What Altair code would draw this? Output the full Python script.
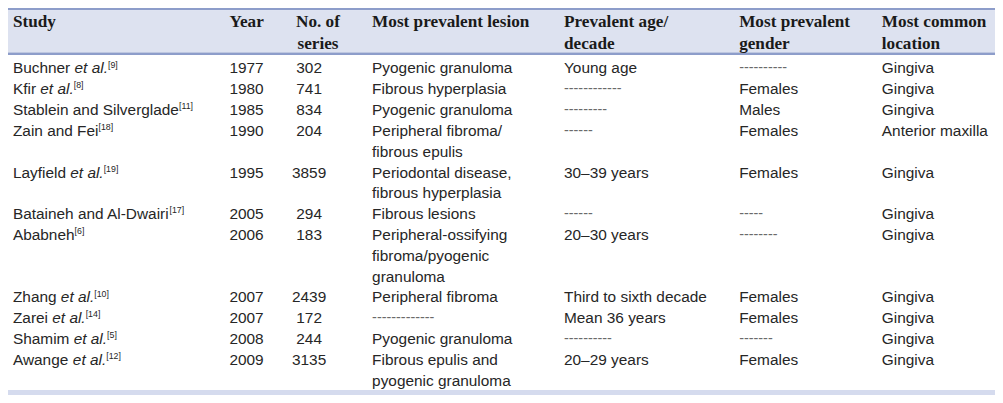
import altair as alt
import pandas as pd

# ---------------- data ----------------
headers = [["Study"], ["Year"], ["No. of", "series"], ["Most prevalent lesion"],
           ["Prevalent age/", "decade"], ["Most prevalent", "gender"], ["Most common", "location"]]

studies = ["Buchner", "Kfir", "Stablein and Silverglade", "Zain and Fei", "Layfield",
           "Bataineh and Al-Dwairi", "Ababneh", "Zhang", "Zarei", "Shamim", "Awange"]
et_al = [True, True, False, False, True, False, False, True, True, True, True]
refs = ["[9]", "[8]", "[11]", "[18]", "[19]", "[17]", "[6]", "[10]", "[14]", "[5]", "[12]"]
years = ["1977", "1980", "1985", "1990", "1995", "2005", "2006", "2007", "2007", "2008", "2009"]
n_series = ["302", "741", "834", "204", "3859", "294", "183", "2439", "172", "244", "3135"]
lesions = [["Pyogenic granuloma"], ["Fibrous hyperplasia"], ["Pyogenic granuloma"],
           ["Peripheral fibroma/", "fibrous epulis"], ["Periodontal disease,", "fibrous hyperplasia"],
           ["Fibrous lesions"], ["Peripheral-ossifying", "fibroma/pyogenic", "granuloma"],
           ["Peripheral fibroma"], ["-------------"], ["Pyogenic granuloma"],
           ["Fibrous epulis and", "pyogenic granuloma"]]
ages = ["Young age", "------------", "---------", "------", "30\u201339 years", "------",
        "20\u201330 years", "Third to sixth decade", "Mean 36 years", "----------", "20\u201329 years"]
genders = ["----------", "Females", "Males", "Females", "Females", "-----", "--------",
           "Females", "Females", "-------", "Females"]
locations = ["Gingiva", "Gingiva", "Gingiva", "Anterior maxilla", "Gingiva", "Gingiva",
             "Gingiva", "Gingiva", "Gingiva", "Gingiva", "Gingiva"]

# ---------------- layout (reference pixel space) ----------------
REF_W, REF_H = 1003, 403
W, H = 987, 387
SX = W / REF_W
FS_DATA, FS_HEAD, FS_SUP = 15.4, 17.2, 8.8
COL_LEFT = [5, 225, None, 370, 565, 743, 888]
COL_CENTER_HEAD = 315
COL_CENTER_NUM = 306
HEAD_Y = [15, 37]
ROW_Y0 = 63
LINE_H = 21.67

ARIAL = {' ': 278, '-': 333, '.': 278, '/': 278, ',': 278, '[': 278, ']': 278, '\u2013': 556,
         'A': 667, 'B': 667, 'C': 722, 'D': 722, 'E': 667, 'F': 611, 'G': 778, 'H': 722, 'I': 278,
         'J': 500, 'K': 667, 'L': 556, 'M': 833, 'N': 722, 'O': 778, 'P': 667, 'Q': 778, 'R': 722,
         'S': 667, 'T': 611, 'U': 722, 'V': 667, 'W': 944, 'X': 667, 'Y': 667, 'Z': 611,
         'a': 556, 'b': 556, 'c': 500, 'd': 556, 'e': 556, 'f': 278, 'g': 556, 'h': 556, 'i': 222,
         'j': 222, 'k': 500, 'l': 222, 'm': 833, 'n': 556, 'o': 556, 'p': 556, 'q': 556, 'r': 333,
         's': 500, 't': 278, 'u': 556, 'v': 500, 'w': 722, 'x': 500, 'y': 500, 'z': 500}


def ref_width(s, size):
    return sum(ARIAL.get(c, 556) for c in s) / 1000 * size / SX


def body_kind(t):
    return "dash" if set(t) == {"-"} else "reg"


pieces = []
# header
for ci, lines in enumerate(headers):
    for li, t in enumerate(lines):
        if ci == 2:
            pieces.append(dict(x=COL_CENTER_HEAD, y=HEAD_Y[li], text=t, kind="head_c"))
        else:
            pieces.append(dict(x=COL_LEFT[ci], y=HEAD_Y[li], text=t, kind="head"))

# body
line = 0
for i in range(len(studies)):
    y0 = ROW_Y0 + LINE_H * line
    name = studies[i] + (" " if et_al[i] else "")
    pieces.append(dict(x=COL_LEFT[0], y=y0, text=name, kind="reg"))
    xx = COL_LEFT[0] + ref_width(name, FS_DATA)
    if et_al[i]:
        pieces.append(dict(x=xx, y=y0, text="et al.", kind="ital"))
        xx += ref_width("et al.", FS_DATA)
    pieces.append(dict(x=xx, y=y0 - 4.0, text=refs[i], kind="sup"))
    pieces.append(dict(x=COL_LEFT[1], y=y0, text=years[i], kind="reg"))
    pieces.append(dict(x=COL_CENTER_NUM, y=y0, text=n_series[i], kind="num"))
    for k, t in enumerate(lesions[i]):
        pieces.append(dict(x=COL_LEFT[3], y=y0 + LINE_H * k, text=t, kind=body_kind(t)))
    pieces.append(dict(x=COL_LEFT[4], y=y0, text=ages[i], kind=body_kind(ages[i])))
    pieces.append(dict(x=COL_LEFT[5], y=y0, text=genders[i], kind=body_kind(genders[i])))
    pieces.append(dict(x=COL_LEFT[6], y=y0, text=locations[i], kind="reg"))
    line += len(lesions[i])

txt = pd.DataFrame(pieces)

LINE_C = "#8d9dca"
bands = pd.DataFrame([
    dict(x=0, x2=REF_W, y=0, y2=2.4, fill=LINE_C),
    dict(x=0, x2=REF_W, y=2.4, y2=46.4, fill="#dde2f0"),
    dict(x=0, x2=REF_W, y=46.4, y2=49.0, fill=LINE_C),
    dict(x=0, x2=REF_W, y=ROW_Y0 + LINE_H * line - LINE_H * 0.55, y2=REF_H, fill="#d5dbee"),
])

xs = alt.Scale(domain=[0, REF_W], nice=False, zero=False)
ys = alt.Scale(domain=[0, REF_H], nice=False, zero=False, reverse=True)

rects = alt.Chart(bands).mark_rect().encode(
    x=alt.X("x:Q", scale=xs, axis=None),
    x2="x2:Q",
    y=alt.Y("y:Q", scale=ys, axis=None),
    y2="y2:Q",
    color=alt.Color("fill:N", scale=None),
)

base = alt.Chart(txt).encode(
    x=alt.X("x:Q", scale=xs, axis=None),
    y=alt.Y("y:Q", scale=ys, axis=None),
    text="text:N",
)

head = base.transform_filter("datum.kind == 'head'").mark_text(
    align="left", baseline="middle", font="Liberation Serif", fontWeight="bold",
    fontSize=FS_HEAD, color="#1a1a1a")
head_c = base.transform_filter("datum.kind == 'head_c'").mark_text(
    align="center", baseline="middle", font="Liberation Serif", fontWeight="bold",
    fontSize=FS_HEAD, color="#1a1a1a")
reg = base.transform_filter("datum.kind == 'reg'").mark_text(
    align="left", baseline="middle", font="Liberation Sans", fontSize=FS_DATA, color="#262626")
dash = base.transform_filter("datum.kind == 'dash'").mark_text(
    align="left", baseline="middle", font="Liberation Sans", fontSize=FS_DATA - 1, color="#6a6a6a")
num = base.transform_filter("datum.kind == 'num'").mark_text(
    align="center", baseline="middle", font="Liberation Sans", fontSize=FS_DATA, color="#262626")
ital = base.transform_filter("datum.kind == 'ital'").mark_text(
    align="left", baseline="middle", font="Liberation Sans", fontStyle="italic",
    fontSize=FS_DATA, color="#262626")
sup = base.transform_filter("datum.kind == 'sup'").mark_text(
    align="left", baseline="middle", font="Liberation Sans", fontSize=FS_SUP, color="#262626")

chart = alt.layer(rects, head, head_c, reg, dash, num, ital, sup).properties(
    width=W, height=H, padding=0,
    autosize=alt.AutoSizeParams(type="none"),
).configure_view(strokeWidth=0)

chart.save("out.html", embed_options={"renderer": "svg", "actions": False})
